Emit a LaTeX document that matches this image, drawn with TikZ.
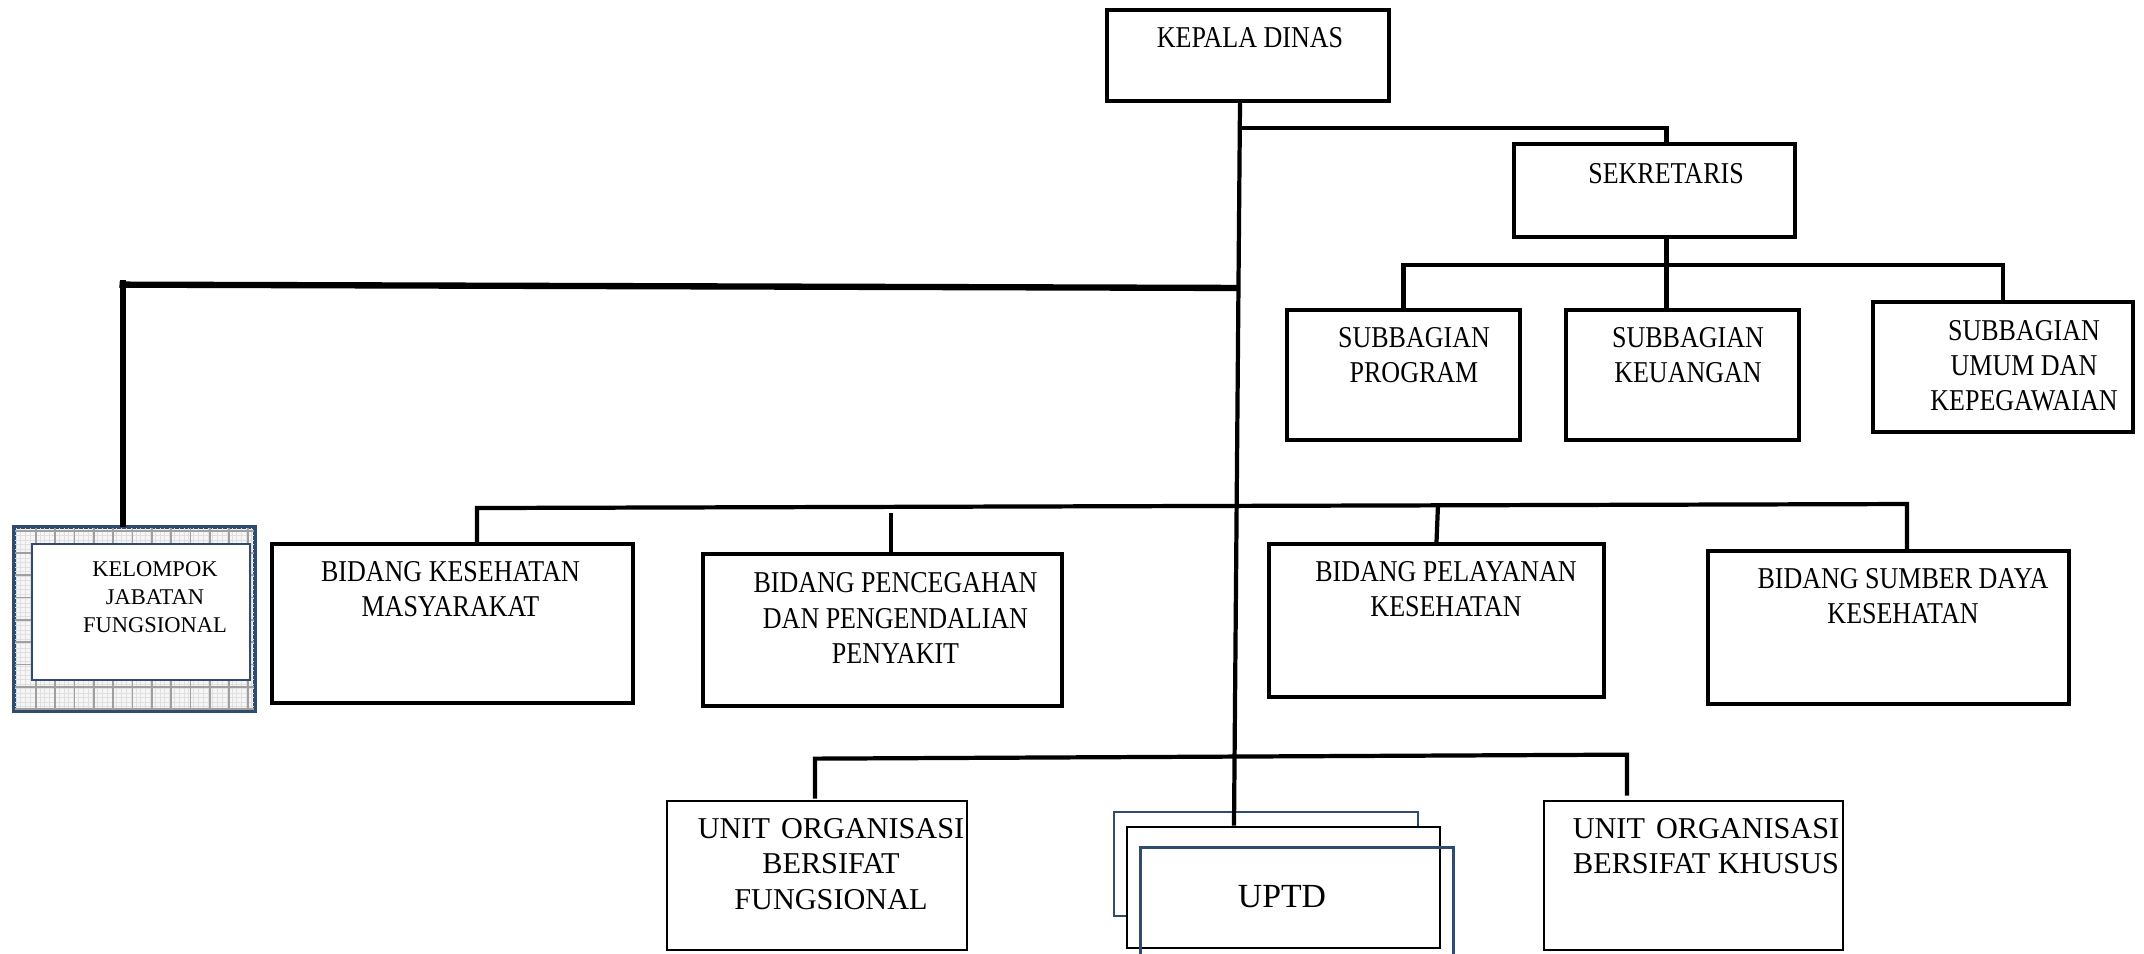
\documentclass[tikz,border=0pt]{standalone}
\usepackage{fontspec}
\setmainfont{Liberation Serif}
\newfontfamily\narrowfont[FakeStretch=0.86]{Liberation Serif}
\usetikzlibrary{calc}
\definecolor{frameblue}{HTML}{2F4B70}
\definecolor{gridbg}{HTML}{F6F6F6}
\tikzset{line/.style={line width=1.2pt}, thickline/.style={line width=1.8pt},
box/.style={draw, line width=1.1pt, fill=white, inner sep=0pt},
thinbox/.style={draw, line width=0.75pt, fill=white, inner sep=0pt},
bluebox/.style={draw=frameblue, line width=0.75pt, inner sep=0pt},
txt/.style={font=\narrowfont\fontsize{8.6}{10}\selectfont, align=center, inner sep=0pt},
unittxt/.style={font=\fontsize{8.6}{10}\selectfont, align=center, inner sep=0pt},
smalltxt/.style={font=\fontsize{6.4}{8}\selectfont, align=center, inner sep=0pt}}

\begin{document}
\begin{tikzpicture}[x=0.01cm, y=-0.01cm]
\useasboundingbox (0,0) rectangle (2144,954);

% head and secretariat
\node[box, minimum width=2.82cm, minimum height=0.91cm] (kadis) at (1248,55.5) {};
\node[txt] (kadistxt) at (1250,38) {KEPALA DINAS};
\node[box, minimum width=2.81cm, minimum height=0.93cm] (sekre) at (1654.5,190.5) {};
\node[txt] (sekretxt) at (1666,174) {SEKRETARIS};

\node[box, minimum width=2.33cm, minimum height=1.3cm] (prog) at (1403.5,375) {};
\node[txt] (progtxt) at (1414,355.5) {SUBBAGIAN\\PROGRAM};
\node[box, minimum width=2.33cm, minimum height=1.3cm] (keu) at (1682.5,375) {};
\node[txt] (keutxt) at (1688,355.5) {SUBBAGIAN\\KEUANGAN};
\node[box, minimum width=2.6cm, minimum height=1.3cm] (umum) at (2003,367) {};
\node[txt] (umumtxt) at (2024,366) {SUBBAGIAN\\UMUM DAN\\KEPEGAWAIAN};

% functional group with grid frame
\node[bluebox, fill=gridbg, minimum width=2.39cm, minimum height=1.82cm] (jafung) at (134.5,619) {};
\begin{scope}
\clip (jafung.south west) rectangle (jafung.north east);
\foreach \x in {16,20.8,...,254} {
  \draw[gray!25, line width=0.2pt] (\x,528) -- (\x,710);
}
\foreach \y in {531,535.5,...,710} {
  \draw[gray!25, line width=0.2pt] (15,\y) -- (254,\y);
}
\foreach \x in {36,55.3,...,254} {
  \draw[gray!75, line width=0.5pt] (\x,528) -- (\x,710);
}
\foreach \y in {530.7,553,...,710} {
  \draw[gray!75, line width=0.5pt] (15,\y) -- (254,\y);
}
\end{scope}
\draw[frameblue, line width=0.8pt] (jafung.south west) rectangle (jafung.north east);
\node[bluebox, fill=white, line width=0.8pt, minimum width=2.18cm, minimum height=1.36cm] (jafungin) at (141,612) {};
\node[smalltxt] (jafungtxt) at (155,597.5) {KELOMPOK\\JABATAN\\FUNGSIONAL};

% fields
\node[box, minimum width=3.61cm, minimum height=1.59cm] (kesmas) at (452.5,623.5) {};
\node[txt] (kesmastxt) at (450.5,589) {BIDANG KESEHATAN\\MASYARAKAT};
\node[box, minimum width=3.59cm, minimum height=1.52cm] (p2p) at (882.5,630) {};
\node[txt] (p2ptxt) at (895.5,618) {BIDANG PENCEGAHAN\\DAN PENGENDALIAN\\PENYAKIT};
\node[box, minimum width=3.35cm, minimum height=1.53cm] (yankes) at (1436.5,620.5) {};
\node[txt] (yankestxt) at (1446,589) {BIDANG PELAYANAN\\KESEHATAN};
\node[box, minimum width=3.61cm, minimum height=1.53cm] (sdk) at (1888.5,627.5) {};
\node[txt] (sdktxt) at (1903,596) {BIDANG SUMBER DAYA\\KESEHATAN};

% units
\node[thinbox, minimum width=3cm, minimum height=1.49cm] (uofung) at (817,875.5) {};
\node[unittxt] (uofungtxt) at (831,864) {UNIT\hspace{1pt} ORGANISASI\\BERSIFAT\\FUNGSIONAL};
\node[bluebox, fill=white, minimum width=3.04cm, minimum height=1.04cm] (uptdback) at (1266,864) {};
\node[thinbox, minimum width=3.13cm, minimum height=1.21cm] (uptd) at (1283.5,887.5) {};
\draw[frameblue, line width=0.75pt] ($(uptd.south west)+(15,10)$) |- ($(uptd.north east)+(12,22)$) -- ($(uptd.south east)+(12,10)$);
\node[font=\fontsize{9.6}{11}\selectfont, inner sep=0pt] (uptdtxt) at (1282,897) {UPTD};
\node[thinbox, minimum width=2.99cm, minimum height=1.49cm] (uokhusus) at (1693.5,875.5) {};
\node[unittxt] (uokhusustxt) at (1706,846) {UNIT\hspace{1pt} ORGANISASI\\BERSIFAT KHUSUS};

% trunk
\draw[line] ($(kadis.south)+(-8,0)$) -- ($(uptd.north)+(-49.5,0)$);
\draw[line] ($(kadis.south)+(-8,25)$) -| ($(sekre.north)+(12,0)$);

% subdivisions
\coordinate (subbus) at (0,265);
\draw[line] ($(sekre.south)+(12,0)$) -- ($(keu.north)+(-16,0)$);
\draw[line] (prog.north) -- (prog.north |- subbus) -- (umum.north |- subbus) -- (umum.north);

% functional group
\draw[thickline] ($(jafung.north)+(-15,-242)$) -- ($(kadis.south)+(-10,185)$);
\draw[thickline] ($(jafung.north)+(-11.5,0)$) -- ++(0,-247);

% fields bus
\draw[line] ($(kesmas.north)+(24.5,0)$) -- ++(0,-34) -- ($(sdk.north)+(18.5,-45)$) -- ($(sdk.north)+(18.5,0)$);
\draw[line] ($(p2p.north)+(8.5,-39)$) -- ($(p2p.north)+(8.5,0)$);
\draw[line] ($(yankes.north)+(1.5,-37)$) -- (yankes.north);

% units bus
\draw[line] ($(uofung.north)+(-2,-1)$) -- ++(0,-40) -- ($(uokhusus.north)+(-66.5,-45)$) -- ($(uokhusus.north)+(-66.5,-4)$);
\end{tikzpicture}
\end{document}
